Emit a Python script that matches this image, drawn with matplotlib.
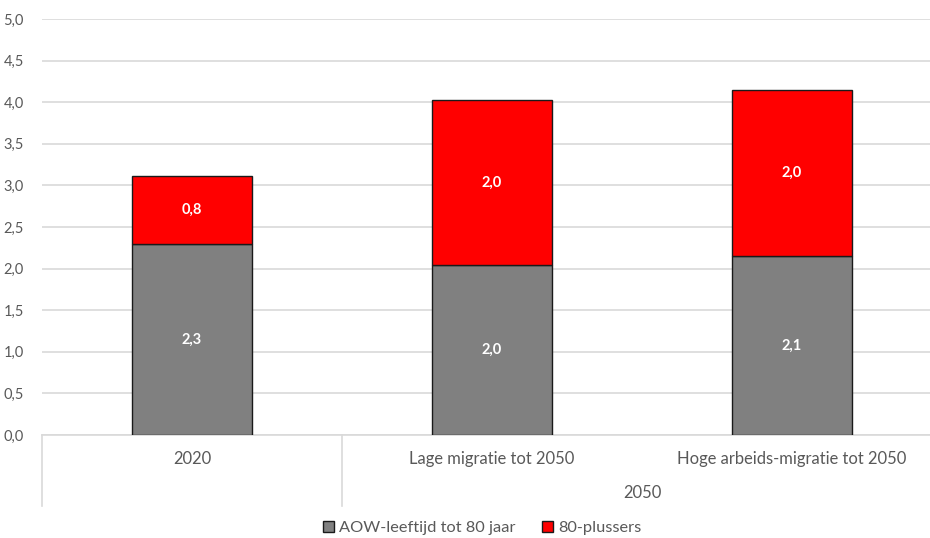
import matplotlib
matplotlib.use("Agg")
import matplotlib.pyplot as plt
from matplotlib.patches import Patch
import matplotlib.transforms as mtransforms

categories = ["2020", "Lage migratie tot 2050", "Hoge arbeids-migratie tot 2050"]
group_labels = ["2050"]
aow = [2.30, 2.04, 2.15]
plus80 = [0.81, 1.99, 2.00]
aow_labels = ["2,3", "2,0", "2,1"]
plus80_labels = ["0,8", "2,0", "2,0"]
series_names = ["AOW-leeftijd tot 80 jaar", "80-plussers"]
yticks = [0, 0.5, 1, 1.5, 2, 2.5, 3, 3.5, 4, 4.5, 5]

plt.rcParams['font.family'] = ['Lato', 'DejaVu Sans']
W, H = 930, 538
fig = plt.figure(figsize=(W / 100, H / 100), dpi=100)
left_px, right_px, top_px, bot_px = 42, 942, 19, 435
ax = fig.add_axes([left_px / W, (H - bot_px) / H, (right_px - left_px) / W, (bot_px - top_px) / H])

x = list(range(len(categories)))
ax.bar(x, aow, width=0.4, color="#808080", edgecolor="#1a1a1a", linewidth=1.0, zorder=3)
ax.bar(x, plus80, bottom=aow, width=0.4, color="#ff0000", edgecolor="#1a1a1a", linewidth=1.0, zorder=3)

for i in x:
    ax.text(i, aow[i] / 2, aow_labels[i], ha="center", va="center", color="white",
            fontsize=10.5, fontweight="bold", zorder=4)
    ax.text(i, aow[i] + plus80[i] / 2, plus80_labels[i], ha="center", va="center", color="white",
            fontsize=10.5, fontweight="bold", zorder=4)

ax.set_xlim(-0.5, 2.5)
ax.set_ylim(0, 5)
ax.set_yticks(yticks)
ax.set_yticklabels([f"{v:.1f}".replace(".", ",") for v in yticks], color="#595959", fontsize=10.5)
ax.tick_params(axis="y", length=0, pad=13)
ax.set_xticks([])
ax.grid(axis="y", color="#d9d9d9", linewidth=1.2, zorder=0)
for s in ["top", "right", "left"]:
    ax.spines[s].set_visible(False)
ax.spines["bottom"].set_color("#d9d9d9")
ax.spines["bottom"].set_linewidth(1.2)

trans = mtransforms.blended_transform_factory(ax.transData, ax.transAxes)
axh = bot_px - top_px
sep_y = -(506 - bot_px) / axh
for xs in [-0.5, 0.5, 2.5]:
    ax.plot([xs, xs], [0, sep_y], transform=trans, color="#d9d9d9", linewidth=1.2, clip_on=False)

cat_y = -(459 - bot_px) / axh
for i, c in enumerate(categories):
    ax.text(i, cat_y, c, transform=trans, ha="center", va="center", color="#595959", fontsize=11.9)
grp_y = -(493 - bot_px) / axh
ax.text(1.5, grp_y, group_labels[0], transform=trans, ha="center", va="center", color="#595959", fontsize=11.9)

handles = [Patch(facecolor="#808080", edgecolor="#1a1a1a", linewidth=1.0),
           Patch(facecolor="#ff0000", edgecolor="#1a1a1a", linewidth=1.0)]
fig.legend(handles, series_names, loc="center", bbox_to_anchor=(482 / W, 1 - 528 / H),
           ncol=2, frameon=False, fontsize=11.8, handlelength=0.7, handleheight=0.7,
           handletextpad=0.3, columnspacing=1.6, labelcolor="#595959")

fig.savefig("out.png", dpi=100)
